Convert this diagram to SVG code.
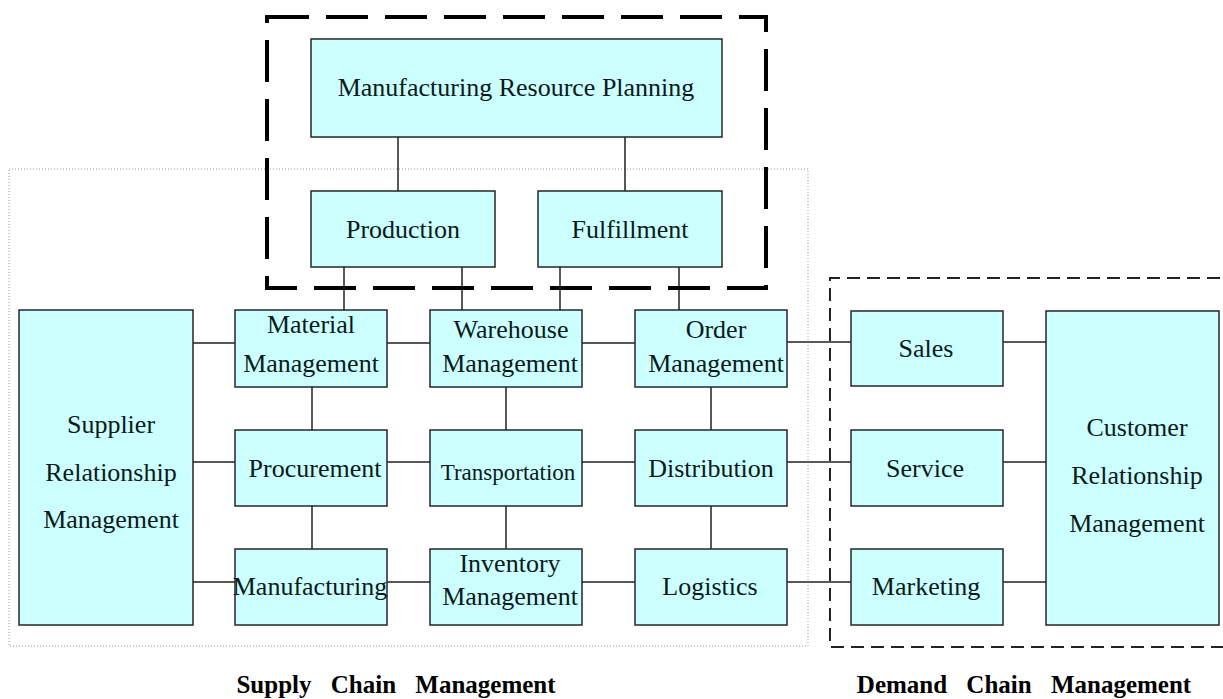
<svg xmlns="http://www.w3.org/2000/svg" width="1223" height="699" viewBox="0 0 1223 699">
<style>
.box{fill:#ccffff;stroke:#262626;stroke-width:1.5}
.t{font-family:"Liberation Serif","Times New Roman",serif;font-size:26px;fill:#0a1a1a;text-anchor:middle}
.ts{font-size:23px}
.lbl{font-family:"Liberation Serif","Times New Roman",serif;font-size:25px;font-weight:bold;fill:#000;text-anchor:middle;word-spacing:13px}
.c{stroke:#222;stroke-width:1.5;fill:none}
</style>
<rect width="1223" height="699" fill="#fff"/>
<g id="regions">
<rect x="9" y="169" width="799" height="477" fill="none" stroke="#999" stroke-width="1" stroke-dasharray="1 2"/>
<path d="M1240,278 H830 V647 H1240" fill="none" stroke="#222" stroke-width="2" stroke-dasharray="13 7"/>
</g>
<g id="connectors" class="c">
<path d="M398,137 V191 M625,137 V191"/>
<path d="M344,267 V310 M462,267 V310 M560,267 V310 M679,267 V310"/>
<path d="M193,343 H235 M387,343 H430 M582,343 H635 M787,342 H851 M1003,342 H1046"/>
<path d="M193,462 H235 M387,462 H430 M582,462 H635 M787,462 H851 M1003,462 H1046"/>
<path d="M193,582 H235 M387,582 H430 M582,582 H635 M787,582 H851 M1003,582 H1046"/>
<path d="M312,387 V430 M312,506 V549 M506,387 V430 M506,506 V549 M711,387 V430 M711,506 V549"/>
</g>
<g id="mrp"><rect class="box" x="311" y="39" width="411" height="98"/><text class="t" x="516" y="96">Manufacturing Resource Planning</text></g>
<g id="production"><rect class="box" x="311" y="191" width="184" height="76"/><text class="t" x="403" y="238">Production</text></g>
<g id="fulfillment"><rect class="box" x="538" y="191" width="184" height="76"/><text class="t" x="630" y="238">Fulfillment</text></g>
<g id="srm"><rect class="box" x="19" y="310" width="174" height="315"/><text class="t" x="111" y="433">Supplier</text><text class="t" x="111" y="481">Relationship</text><text class="t" x="111" y="528">Management</text></g>
<g id="material"><rect class="box" x="235" y="310" width="152" height="77"/><text class="t" x="311" y="333">Material</text><text class="t" x="311" y="372">Management</text></g>
<g id="procurement"><rect class="box" x="235" y="430" width="152" height="76"/><text class="t" x="315" y="477">Procurement</text></g>
<g id="manufacturing"><rect class="box" x="235" y="549" width="152" height="76"/><text class="t" x="310" y="595">Manufacturing</text></g>
<g id="warehouse"><rect class="box" x="430" y="310" width="152" height="77"/><text class="t" x="511" y="338">Warehouse</text><text class="t" x="510" y="372">Management</text></g>
<g id="transportation"><rect class="box" x="430" y="430" width="152" height="76"/><text class="t ts" x="508" y="480">Transportation</text></g>
<g id="inventory"><rect class="box" x="430" y="549" width="152" height="76"/><text class="t" x="510" y="572">Inventory</text><text class="t" x="510" y="605">Management</text></g>
<g id="order"><rect class="box" x="635" y="310" width="152" height="77"/><text class="t" x="716" y="338">Order</text><text class="t" x="716" y="372">Management</text></g>
<g id="distribution"><rect class="box" x="635" y="430" width="152" height="76"/><text class="t" x="711" y="477">Distribution</text></g>
<g id="logistics"><rect class="box" x="635" y="549" width="152" height="76"/><text class="t" x="710" y="595">Logistics</text></g>
<g id="sales"><rect class="box" x="851" y="311" width="152" height="75"/><text class="t" x="926" y="357">Sales</text></g>
<g id="service"><rect class="box" x="851" y="430" width="152" height="76"/><text class="t" x="925" y="477">Service</text></g>
<g id="marketing"><rect class="box" x="851" y="549" width="152" height="76"/><text class="t" x="926" y="595">Marketing</text></g>
<g id="crm"><rect class="box" x="1046" y="311" width="173" height="314"/><text class="t" x="1137" y="436">Customer</text><text class="t" x="1137" y="484">Relationship</text><text class="t" x="1137" y="532">Management</text></g>
<g id="mrp-group"><rect x="267" y="17" width="499" height="271" fill="none" stroke="#000" stroke-width="4" stroke-dasharray="42 17"/></g>
<g id="labels">
<text class="lbl" x="396" y="693">Supply Chain Management</text>
<text class="lbl" x="1024" y="693">Demand Chain Management</text>
</g>
</svg>
